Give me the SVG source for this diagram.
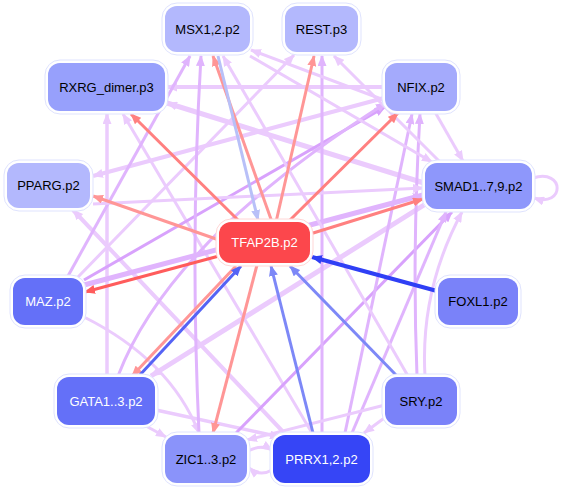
<svg xmlns="http://www.w3.org/2000/svg" width="563" height="489" viewBox="0 0 563 489">
<defs>
<style>
.e{fill:none;stroke-linecap:butt}
.p1{stroke:#ebcbfd}.p2{stroke:#e0b4fd}.p3{stroke:#d8a2fc}
.r1{stroke:#ff9696}.r2{stroke:#ff8080}.r3{stroke:#ff5c5c}
.b1{stroke:#b8c0f8}.b2{stroke:#7d88f7}.b3{stroke:#5563f5}.b4{stroke:#2f3ff5}
.halo{fill:#ffffff;stroke:#dfe3fe;stroke-width:1}
.t{font-family:"Liberation Sans",Arial,sans-serif;font-size:13px;text-anchor:middle;dominant-baseline:central}
.dk{fill:#000000}.lt{fill:#ffffff}
</style>
<marker id="mp1" markerUnits="userSpaceOnUse" markerWidth="11" markerHeight="9" refX="10" refY="4.5" orient="auto"><path d="M0,0 L11,4.5 L0,9 z" fill="#ebcbfd"/></marker>
<marker id="mp2" markerUnits="userSpaceOnUse" markerWidth="11" markerHeight="9" refX="10" refY="4.5" orient="auto"><path d="M0,0 L11,4.5 L0,9 z" fill="#e0b4fd"/></marker>
<marker id="mp3" markerUnits="userSpaceOnUse" markerWidth="11" markerHeight="9" refX="10" refY="4.5" orient="auto"><path d="M0,0 L11,4.5 L0,9 z" fill="#d8a2fc"/></marker>
<marker id="mr1" markerUnits="userSpaceOnUse" markerWidth="11" markerHeight="9" refX="10" refY="4.5" orient="auto"><path d="M0,0 L11,4.5 L0,9 z" fill="#ff9696"/></marker>
<marker id="mr2" markerUnits="userSpaceOnUse" markerWidth="11" markerHeight="9" refX="10" refY="4.5" orient="auto"><path d="M0,0 L11,4.5 L0,9 z" fill="#ff8080"/></marker>
<marker id="mr3" markerUnits="userSpaceOnUse" markerWidth="11" markerHeight="9" refX="10" refY="4.5" orient="auto"><path d="M0,0 L11,4.5 L0,9 z" fill="#ff5c5c"/></marker>
<marker id="mb1" markerUnits="userSpaceOnUse" markerWidth="11" markerHeight="9" refX="10" refY="4.5" orient="auto"><path d="M0,0 L11,4.5 L0,9 z" fill="#b8c0f8"/></marker>
<marker id="mb2" markerUnits="userSpaceOnUse" markerWidth="11" markerHeight="9" refX="10" refY="4.5" orient="auto"><path d="M0,0 L11,4.5 L0,9 z" fill="#7d88f7"/></marker>
<marker id="mb3" markerUnits="userSpaceOnUse" markerWidth="11" markerHeight="9" refX="10" refY="4.5" orient="auto"><path d="M0,0 L11,4.5 L0,9 z" fill="#5563f5"/></marker>
<marker id="mb4" markerUnits="userSpaceOnUse" markerWidth="11" markerHeight="9" refX="10" refY="4.5" orient="auto"><path d="M0,0 L11,4.5 L0,9 z" fill="#2f3ff5"/></marker>
</defs>
<rect width="563" height="489" fill="#ffffff"/>
<g id="edges">
<!-- purple -->
<path class="e p1" stroke-width="4" marker-end="url(#mp1)" d="M384 87 L167 87"/>
<path class="e p1" stroke-width="5" marker-end="url(#mp1)" d="M424 183 L167 103"/>
<path class="e p1" stroke-width="4" marker-end="url(#mp1)" d="M384 98 L93 176"/>
<path class="e p1" stroke-width="3.5" marker-end="url(#mp1)" d="M107 376 L107 114"/>
<path class="e p1" stroke-width="3" marker-end="url(#mp1)" d="M312 433 L123 114"/>
<path class="e p1" stroke-width="4" marker-end="url(#mp1)" d="M287 436 L73 210"/>
<path class="e p3" stroke-width="3" marker-end="url(#mp3)" d="M84 280 L385 107"/>
<path class="e p2" stroke-width="5" marker-end="url(#mp2)" d="M84 285 L423 195"/>
<path class="e p2" stroke-width="3" marker-end="url(#mp2)" d="M68 276 L190 56"/>
<path class="e p1" stroke-width="3" marker-end="url(#mp1)" d="M78 277 L294 55"/>
<path class="e p1" stroke-width="3" marker-end="url(#mp1)" d="M84 317 Q170 360 199 433"/>
<path class="e p2" stroke-width="3" marker-end="url(#mp2)" d="M118 376 Q170 240 386 103"/>
<path class="e p1" stroke-width="5" marker-end="url(#mp1)" d="M424 205 L151 376"/>
<path class="e p1" stroke-width="3.5" marker-end="url(#mp1)" d="M156 410 L280 437"/>
<path class="e p1" stroke-width="3" marker-end="url(#mp1)" d="M146 426 L166 437"/>
<path class="e p2" stroke-width="3" marker-end="url(#mp2)" d="M199 433 Q190 240 201 56"/>
<path class="e p3" stroke-width="3" marker-end="url(#mp3)" d="M236 433 L452 212"/>
<path class="e p1" stroke-width="3" marker-end="url(#mp1)" d="M248 451 Q262 444 272 450"/>
<path class="e p1" stroke-width="3" marker-end="url(#mp1)" d="M272 470 Q260 477 249 468"/>
<path class="e p2" stroke-width="3" marker-end="url(#mp2)" d="M322 433 L322 56"/>
<path class="e p2" stroke-width="3" marker-end="url(#mp2)" d="M345 433 L412 114"/>
<path class="e p2" stroke-width="3" marker-end="url(#mp2)" d="M417 376 Q412 250 420 114"/>
<path class="e p1" stroke-width="3" marker-end="url(#mp1)" d="M425 376 Q420 290 462 212"/>
<path class="e p2" stroke-width="3" marker-end="url(#mp2)" d="M352 433 L446 212"/>
<path class="e p1" stroke-width="3" marker-end="url(#mp1)" d="M408 376 L223 56"/>
<path class="e p1" stroke-width="3" marker-end="url(#mp1)" d="M384 100 L251 50"/>
<path class="e p1" stroke-width="3" marker-end="url(#mp1)" d="M250 56 L432 162"/>
<path class="e p1" stroke-width="3" marker-end="url(#mp1)" d="M440 162 L334 56"/>
<path class="e p1" stroke-width="3" marker-end="url(#mp1)" d="M435 112 L463 161"/>
<path class="e p1" stroke-width="3" marker-end="url(#mp1)" d="M533 178 C565 168 565 208 534 198"/>
<path class="e p1" stroke-width="3" marker-end="url(#mp1)" d="M387 416 L364 433"/>
<path class="e p1" stroke-width="3" marker-end="url(#mp1)" d="M385 405 L247 440"/>
<path class="e p1" stroke-width="3" marker-end="url(#mp1)" d="M93 204 L423 188"/>
<!-- red -->
<path class="e r1" stroke-width="3" marker-end="url(#mr1)" d="M272 222 L213 56"/>
<path class="e r1" stroke-width="3" marker-end="url(#mr1)" d="M276 222 L314 56"/>
<path class="e r2" stroke-width="3" marker-end="url(#mr2)" d="M240 222 L131 114"/>
<path class="e r1" stroke-width="3" marker-end="url(#mr1)" d="M219 240 L93 196"/>
<path class="e r2" stroke-width="3" marker-end="url(#mr2)" d="M288 222 L398 113"/>
<path class="e r2" stroke-width="3" marker-end="url(#mr2)" d="M310 234 L423 199"/>
<path class="e r3" stroke-width="3" marker-end="url(#mr3)" d="M219 256 L85 292"/>
<path class="e r1" stroke-width="3" marker-end="url(#mr1)" d="M236 266 L132 376"/>
<path class="e r1" stroke-width="3" marker-end="url(#mr1)" d="M257 265 L213 433"/>
<!-- blue -->
<path class="e b1" stroke-width="3" marker-end="url(#mb1)" d="M218 56 L258 220"/>
<path class="e b3" stroke-width="3" marker-end="url(#mb3)" d="M138 377 L241 266"/>
<path class="e b2" stroke-width="3" marker-end="url(#mb2)" d="M313 433 L271 266"/>
<path class="e b2" stroke-width="3" marker-end="url(#mb2)" d="M397 376 L290 266"/>
<path class="e b4" stroke-width="4" marker-end="url(#mb4)" d="M437 291 L312 257"/>
</g>
<g id="n_MSX">
<rect class="halo" x="162" y="3" width="91" height="52" rx="15"/>
<rect x="165" y="6" width="85" height="46" rx="12" fill="#b3b8fd"/>
<text class="t dk" x="207.5" y="29">MSX1,2.p2</text>
</g>
<g id="n_REST">
<rect class="halo" x="282" y="3" width="79" height="52" rx="15"/>
<rect x="285" y="6" width="73" height="46" rx="12" fill="#b3b8fd"/>
<text class="t dk" x="321.5" y="29">REST.p3</text>
</g>
<g id="n_RXRG">
<rect class="halo" x="45" y="60" width="123" height="54" rx="15"/>
<rect x="48" y="63" width="117" height="48" rx="12" fill="#97a0fc"/>
<text class="t dk" x="106.5" y="87">RXRG_dimer.p3</text>
</g>
<g id="n_NFIX">
<rect class="halo" x="382" y="60" width="78" height="54" rx="15"/>
<rect x="385" y="63" width="72" height="48" rx="12" fill="#a4aafc"/>
<text class="t dk" x="421" y="87">NFIX.p2</text>
</g>
<g id="n_PPARG">
<rect class="halo" x="4" y="160" width="89" height="51" rx="15"/>
<rect x="7" y="163" width="83" height="45" rx="12" fill="#b3b8fd"/>
<text class="t dk" x="48.5" y="185.5">PPARG.p2</text>
</g>
<g id="n_SMAD">
<rect class="halo" x="422" y="160" width="113" height="52" rx="15"/>
<rect x="425" y="163" width="107" height="46" rx="12" fill="#8e97fb"/>
<text class="t dk" x="478.5" y="186">SMAD1..7,9.p2</text>
</g>
<g id="n_TFAP2B">
<rect x="216" y="219" width="97" height="47" rx="15" fill="#ffffff" stroke="#ffd6d6" stroke-width="1"/>
<rect x="219" y="222" width="91" height="41" rx="12" fill="#fc474c"/>
<text class="t lt" x="264.5" y="242.5">TFAP2B.p2</text>
</g>
<g id="n_MAZ">
<rect class="halo" x="10" y="275" width="76" height="53" rx="15"/>
<rect x="13" y="278" width="70" height="47" rx="12" fill="#6470f8"/>
<text class="t lt" x="48" y="301.5">MAZ.p2</text>
</g>
<g id="n_FOXL1">
<rect class="halo" x="435" y="275" width="86" height="53" rx="15"/>
<rect x="438" y="278" width="80" height="47" rx="12" fill="#7a82f9"/>
<text class="t dk" x="478" y="301.5">FOXL1.p2</text>
</g>
<g id="n_GATA">
<rect class="halo" x="54" y="374" width="104" height="54" rx="15"/>
<rect x="57" y="377" width="98" height="48" rx="12" fill="#6470f8"/>
<text class="t lt" x="106" y="401">GATA1..3.p2</text>
</g>
<g id="n_SRY">
<rect class="halo" x="382" y="374" width="78" height="54" rx="15"/>
<rect x="385" y="377" width="72" height="48" rx="12" fill="#7a82f9"/>
<text class="t dk" x="421" y="401">SRY.p2</text>
</g>
<g id="n_ZIC">
<rect class="halo" x="162" y="432" width="88" height="54" rx="15"/>
<rect x="165" y="435" width="82" height="48" rx="12" fill="#8a93fa"/>
<text class="t dk" x="206" y="459">ZIC1..3.p2</text>
</g>
<g id="n_PRRX">
<rect class="halo" x="270" y="432" width="103" height="54" rx="15"/>
<rect x="273" y="435" width="97" height="48" rx="12" fill="#3645f6"/>
<text class="t lt" x="321.5" y="459">PRRX1,2.p2</text>
</g>
</svg>
